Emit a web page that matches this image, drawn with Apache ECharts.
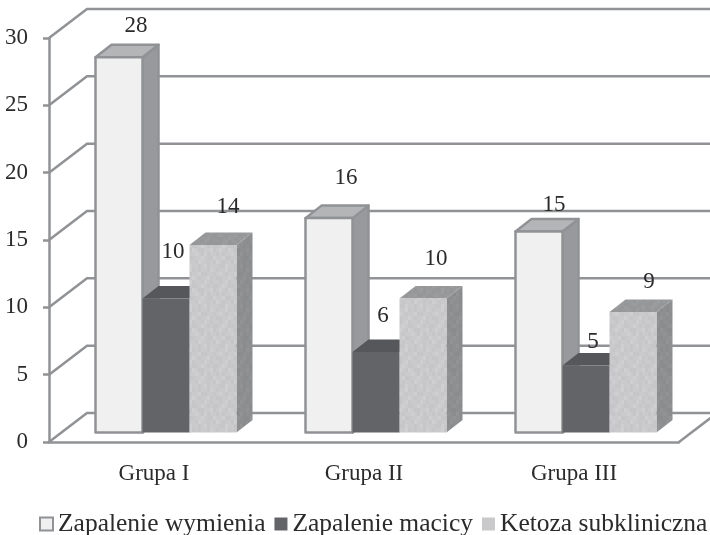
<!DOCTYPE html>
<html>
<head>
<meta charset="utf-8">
<style>html,body{margin:0;padding:0;background:#fff}#chart{width:710px;height:535px}</style>
<script src="https://cdn.jsdelivr.net/npm/echarts@6/dist/echarts.min.js"></script>
</head>
<body>
<div id="chart"></div>
<script>
// Chart values
const categories = ['Grupa I', 'Grupa II', 'Grupa III'];
const zapalenieWymienia = [28, 16, 15];
const zapalenieMacicy = [10, 6, 5];
const ketozaSubkliniczna = [14, 10, 9];
const axisTicks = [0, 5, 10, 15, 20, 25, 30];

// Value label nudges in pixels, relative to the middle of each bar's top edge
const labelNudgeX = [[17, 17, 15], [7, 7, 7], [15, 13, 16]];
const labelNudgeY = [[-31, -40, -27], [-47, -36, -24], [-38, -40, -30]];

// Perspective settings
const FLOOR = { x: 38, y: -29 };      // front edge of the floor to the back wall
const BAR_INSET = { x: 12, y: -9.5 }; // front edge of the floor to the bar's front face
const BAR_DEPTH = { x: 16, y: -12.5 };
const BAR_WIDTH = 47;
const HEIGHT_SCALE = 0.995;
const LINE = '#909295';
const LINE_WIDTH = 2.5;
const SERIF = '"Liberation Serif", serif';

// Mottled fill of the third series' faces
function mottled(rows, cellW, cellH, tone) {
  const c = document.createElement('canvas');
  c.width = rows[0].length * cellW;
  c.height = rows.length * cellH;
  const g = c.getContext('2d');
  rows.forEach((row, j) => [...row].forEach((k, i) => {
    g.fillStyle = tone[k];
    g.fillRect(i * cellW, j * cellH, cellW, cellH);
  }));
  return c;
}
const texRows = [
  'abacbaabcaba',
  'bacabbacabab',
  'acabcabbaacb',
  'babaacabcbaa',
  'aacbbaacabbc',
  'cabaabcaabab',
  'abbcaabacbaa',
  'baacbabaabca',
  'acabaacbbaab',
  'bbaacabaacba'
];
const frontTex = mottled(texRows, 3, 4, { a: '#cacacc', b: '#c6c6c8', c: '#cfcfd1' });
const sideTex = mottled(texRows, 3, 4, { a: '#8e8f91', b: '#8b8c8e', c: '#929395' });
const topTex = mottled(texRows, 3, 3, { a: '#98999b', b: '#959698', c: '#9c9d9f' });

const styles = [
  { front: '#f0f0f1', top: '#b4b5b7', side: '#98999c', stroke: LINE, width: 2.5 },
  { front: '#636467', top: '#56575a', side: '#56575a', stroke: '#636467', width: 0 },
  { front: { image: frontTex, repeat: 'repeat' }, top: { image: topTex, repeat: 'repeat' },
    side: { image: sideTex, repeat: 'repeat' }, stroke: 'none', width: 0 }
];

function barRenderer(seriesPos) {
  return function (params, api) {
    const val = api.value(1);
    const base = api.coord([api.value(0), 0]);
    const top = api.coord([api.value(0), val]);
    const s = styles[seriesPos];
    const x0 = base[0] + BAR_INSET.x + (seriesPos - 1.5) * BAR_WIDTH;
    const x1 = x0 + BAR_WIDTH;
    const yB = base[1] + BAR_INSET.y;
    const yT = yB - (base[1] - top[1]) * HEIGHT_SCALE;
    const dx = BAR_DEPTH.x, dy = BAR_DEPTH.y;
    const face = (pts, fill) => ({
      type: 'polygon',
      shape: { points: pts },
      style: { fill, stroke: s.stroke, lineWidth: s.width, lineJoin: 'round' }
    });
    return {
      type: 'group',
      children: [
        face([[x1, yT], [x1 + dx, yT + dy], [x1 + dx, yB + dy], [x1, yB]], s.side),
        face([[x0, yT], [x0 + dx, yT + dy], [x1 + dx, yT + dy], [x1, yT]], s.top),
        face([[x0, yT], [x1, yT], [x1, yB], [x0, yB]], s.front),
        {
          type: 'text',
          style: {
            text: String(val),
            x: (x0 + x1) / 2 + labelNudgeX[seriesPos][params.dataIndex],
            y: yT + labelNudgeY[seriesPos][params.dataIndex],
            align: 'center',
            verticalAlign: 'middle',
            font: '23px ' + SERIF,
            fill: '#2b2b2b'
          }
        }
      ]
    };
  };
}

// Receding grid lines: front edge to back wall, then along the back wall
function wallRenderer(params, api) {
  const p = api.coord([0, api.value(0)]);
  const front = [params.coordSys.x, p[1]];
  const back = [front[0] + FLOOR.x, p[1] + FLOOR.y];
  const end = [params.coordSys.x + params.coordSys.width + FLOOR.x, back[1]];
  const children = [{
    type: 'polyline',
    shape: { points: [front, back, end] },
    style: { fill: 'none', stroke: LINE, lineWidth: LINE_WIDTH }
  }];
  if (api.value(0) === 0) {
    const right = [params.coordSys.x + params.coordSys.width, p[1]];
    children.push({
      type: 'line',
      shape: { x1: right[0], y1: right[1], x2: end[0], y2: end[1] },
      style: { stroke: LINE, lineWidth: LINE_WIDTH }
    });
  }
  return { type: 'group', children };
}

function barSeries(name, values, pos, color, border) {
  return {
    name,
    type: 'custom',
    coordinateSystem: 'cartesian2d',
    renderItem: barRenderer(pos),
    encode: { x: 0, y: 1 },
    data: values.map((v, i) => [i, v]),
    itemStyle: { color, borderColor: border, borderWidth: border === 'transparent' ? 0 : 1.5 },
    z: 3 + pos,
    silent: true
  };
}

const chart = echarts.init(document.getElementById('chart'), null, { renderer: 'canvas' });
chart.setOption({
  animation: false,
  backgroundColor: '#ffffff',
  grid: { left: 49, top: 38, width: 630, height: 404 },
  legend: {
    left: 39,
    top: 511,
    padding: 0,
    itemGap: 9,
    itemWidth: 13,
    itemHeight: 13,
    selectedMode: false,
    icon: 'rect',
    textStyle: { fontFamily: SERIF, fontSize: 25.5, color: '#2b2b2b', padding: [0, 0, 0, 0] },
    data: ['Zapalenie wymienia', 'Zapalenie macicy', 'Ketoza subkliniczna']
  },
  xAxis: {
    type: 'category',
    data: categories,
    axisLine: { lineStyle: { color: LINE, width: LINE_WIDTH } },
    axisTick: { length: 7, lineStyle: { color: LINE, width: LINE_WIDTH } },
    axisLabel: { fontFamily: SERIF, fontSize: 23, color: '#2b2b2b', margin: 20 },
    splitLine: { show: false }
  },
  yAxis: {
    type: 'value',
    min: 0,
    max: 30,
    interval: 5,
    axisLine: { show: true, lineStyle: { color: LINE, width: LINE_WIDTH } },
    axisTick: { show: true, length: 6, lineStyle: { color: LINE, width: LINE_WIDTH } },
    axisLabel: { fontFamily: SERIF, fontSize: 23, color: '#2b2b2b', margin: 21, padding: [5, 0, 0, 0] },
    splitLine: { show: false }
  },
  series: [
    {
      type: 'custom',
      coordinateSystem: 'cartesian2d',
      renderItem: wallRenderer,
      encode: { y: 0 },
      data: axisTicks.map(t => [t]),
      z: 1,
      silent: true
    },
    barSeries('Zapalenie wymienia', zapalenieWymienia, 0, '#f0f0f1', LINE),
    barSeries('Zapalenie macicy', zapalenieMacicy, 1, '#636467', 'transparent'),
    barSeries('Ketoza subkliniczna', ketozaSubkliniczna, 2, '#c9c9cb', 'transparent')
  ]
});
</script>
</body>
</html>
